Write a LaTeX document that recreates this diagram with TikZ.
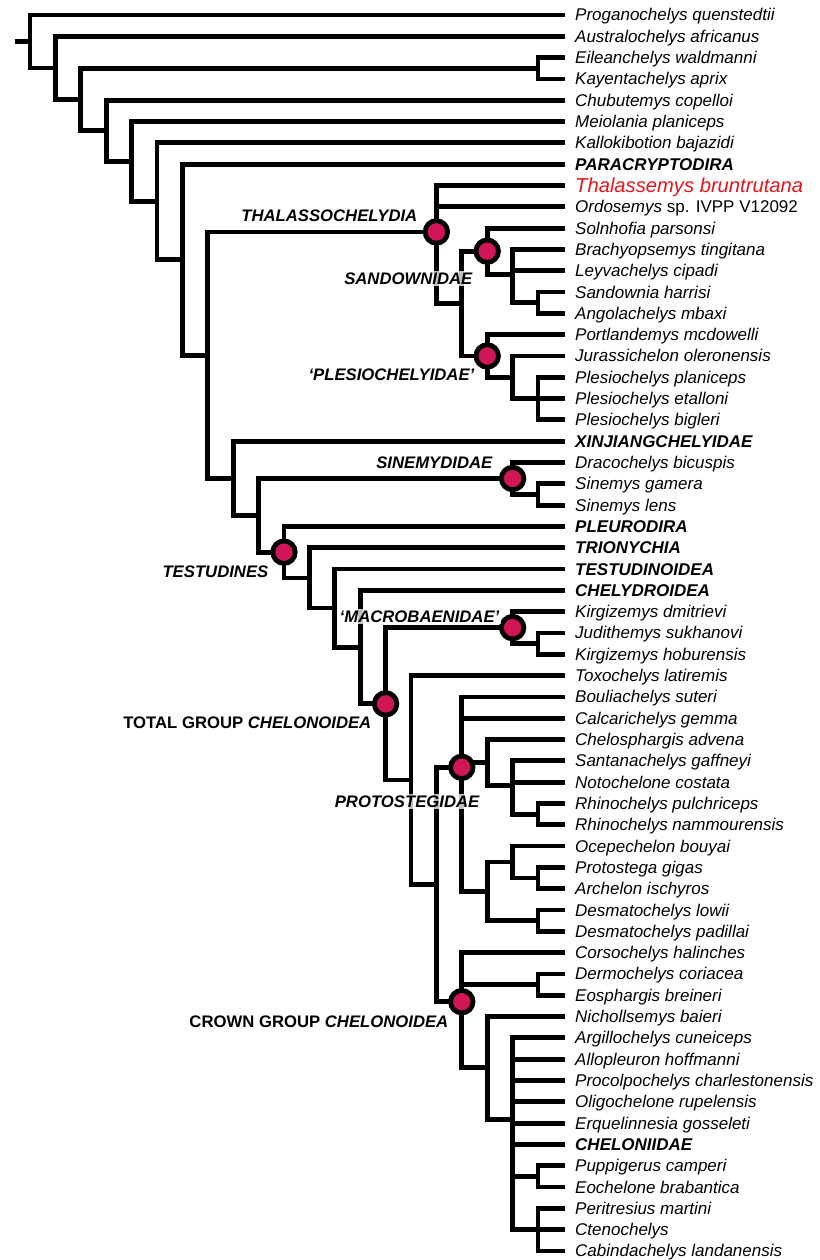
\documentclass[tikz,border=0pt]{standalone}
\usepackage{fontspec}
\setmainfont{Liberation Sans}
\usetikzlibrary{calc}
\definecolor{nodefill}{RGB}{208,22,88}
\definecolor{hlred}{RGB}{232,22,28}
\newcommand\Y[1]{(15+(#1-1)*21.31)}
\newcommand\IN[3]{\coordinate (#1) at ({30+25.4*#2},{\Y{#3}});}
\newcommand\TIP[1]{\coordinate (t#1) at (565,{\Y{#1}});}
\tikzset{
  br/.style={line width=4.8pt, line join=miter, line cap=butt},
  cladedot/.style={circle, draw=black, line width=4.8pt, fill=nodefill, minimum size=22.5pt, inner sep=0pt},
  leaf/.style={anchor=base west, inner sep=0pt, font=\fontsize{17}{20}\selectfont\itshape},
  leafgrp/.style={leaf, font=\fontsize{17}{20}\selectfont\bfseries\itshape},
  leafred/.style={leaf, text=hlred, font=\fontsize{20.2}{24}\selectfont\itshape},
  cladelabel/.style={anchor=base east, inner sep=1.5pt, fill=white, fill opacity=0.75, text opacity=1, font=\fontsize{16.7}{20}\selectfont\bfseries\itshape},
}
\begin{document}
\begin{tikzpicture}[x=1pt,y=-1pt]
\useasboundingbox (0,0) rectangle (819,1260);
% tips
\foreach \i in {1,...,59} {\TIP{\i}}
% internal nodes
\IN{pE}{20}{3.5}
\IN{nS3}{20}{14.5}
\IN{nS2}{19}{13.16667}
\IN{nS}{18}{12.08333}
\IN{nP3}{20}{19}
\IN{nP2}{19}{18}
\IN{nP}{18}{17}
\IN{nSP}{17}{14.54167}
\IN{Thal}{16}{11.18056}
\IN{nSi2}{20}{23.5}
\IN{Sin}{19}{22.75}
\IN{nM2}{20}{30.5}
\IN{Mac}{19}{29.75}
\IN{nR}{20}{38.5}
\IN{nPr1b}{19}{37.16667}
\IN{nPr1}{18}{36.08333}
\IN{nPA}{20}{41.5}
\IN{nPr2a}{19}{40.75}
\IN{nD}{20}{43.5}
\IN{nPr2}{18}{42.125}
\IN{Prot}{17}{36.30208}
\IN{nDE}{20}{46.5}
\IN{nPE}{20}{55.5}
\IN{nPC}{20}{58}
\IN{nC2}{19}{52.8125}
\IN{nC1}{18}{50.40625}
\IN{Crown}{17}{47.30208}
\IN{n15}{16}{41.80208}
\IN{n14}{15}{36.90104}
\IN{TG}{14}{33.32552}
\IN{n13}{13}{30.66276}
\IN{n12}{12}{28.83138}
\IN{n11}{11}{27.41569}
\IN{Test}{10}{26.20785}
\IN{n10}{9}{24.47892}
\IN{n9}{8}{22.73946}
\IN{n8}{7}{16.96001}
\IN{n7}{6}{12.48001}
\IN{n6}{5}{9.74000}
\IN{n5}{4}{7.87000}
\IN{n4}{3}{6.43500}
\IN{n3}{2}{4.96750}
\IN{n2}{1}{3.48375}
\IN{n1}{0}{2.24188}
\coordinate (root) at (15,{\Y{2.24188}});
% branches
\draw[br] (root) -- (n1);
\draw[br] (t1) -| (n1) |- (n2);
\draw[br] (t2) -| (n2) |- (n3);
\draw[br] (pE) -| (n3) |- (n4);
\draw[br] (t3) -| (pE) |- (t4);
\draw[br] (t5) -| (n4) |- (n5);
\draw[br] (t6) -| (n5) |- (n6);
\draw[br] (t7) -| (n6) |- (n7);
\draw[br] (t8) -| (n7) |- (n8);
\draw[br] (Thal) -| (n8) |- (n9);
\draw[br] (t9) -| (Thal) |- (nSP);
\draw[br] (t10) -| (Thal);
\draw[br] (nS) -| (nSP) |- (nP);
\draw[br] (t11) -| (nS) |- (nS2);
\draw[br] (t12) -| (nS2) |- (nS3);
\draw[br] (t13) -| (nS2);
\draw[br] (t14) -| (nS3) |- (t15);
\draw[br] (t16) -| (nP) |- (nP2);
\draw[br] (t17) -| (nP2) |- (nP3);
\draw[br] (t18) -| (nP3) |- (t20);
\draw[br] (t19) -- (nP3);
\draw[br] (t21) -| (n9) |- (n10);
\draw[br] (Sin) -| (n10) |- (Test);
\draw[br] (t22) -| (Sin) |- (nSi2);
\draw[br] (t23) -| (nSi2) |- (t24);
\draw[br] (t25) -| (Test) |- (n11);
\draw[br] (t26) -| (n11) |- (n12);
\draw[br] (t27) -| (n12) |- (n13);
\draw[br] (t28) -| (n13) |- (TG);
\draw[br] (Mac) -| (TG) |- (n14);
\draw[br] (t29) -| (Mac) |- (nM2);
\draw[br] (t30) -| (nM2) |- (t31);
\draw[br] (t32) -| (n14) |- (n15);
\draw[br] (Prot) -| (n15) |- (Crown);
\draw[br] (t33) -| (Prot) |- (nPr2);
\draw[br] (t34) -| (Prot);
\draw[br] (nPr1) -| (Prot);
\draw[br] (t35) -| (nPr1) |- (nPr1b);
\draw[br] (t36) -| (nPr1b) |- (nR);
\draw[br] (t37) -| (nPr1b);
\draw[br] (t38) -| (nR) |- (t39);
\draw[br] (nPr2a) -| (nPr2) |- (nD);
\draw[br] (t40) -| (nPr2a) |- (nPA);
\draw[br] (t41) -| (nPA) |- (t42);
\draw[br] (t43) -| (nD) |- (t44);
\draw[br] (t45) -| (Crown) |- (nC1);
\draw[br] (nDE) -| (Crown);
\draw[br] (t46) -| (nDE) |- (t47);
\draw[br] (t48) -| (nC1) |- (nC2);
\draw[br] (t49) -| (nC2) |- (nPC);
\foreach \k in {50,...,54} {\draw[br] (t\k) -| (nC2);}
\draw[br] (nPE) -| (nC2);
\draw[br] (t55) -| (nPE) |- (t56);
\draw[br] (t57) -| (nPC) |- (t59);
\draw[br] (t58) -- (nPC);
% clade dots
\foreach \c in {Thal,nS,nP,Sin,Test,Mac,TG,Prot,Crown} {\node[cladedot] (d\c) at (\c) {};}
% clade labels
\node[cladelabel] (lbThal) at (419,222) {THALASSOCHELYDIA};
\node[cladelabel] (lbSand) at (474,284) {SANDOWNIDAE};
\node[cladelabel] (lbPles) at (476,380) {‘PLESIOCHELYIDAE’};
\node[cladelabel] (lbSin) at (494,468) {SINEMYDIDAE};
\node[cladelabel] (lbTest) at (270,577) {TESTUDINES};
\node[cladelabel] (lbMac) at (501,622) {‘MACROBAENIDAE’};
\node[cladelabel] (lbTG) at (373,728) {\upshape TOTAL GROUP \itshape CHELONOIDEA};
\node[cladelabel] (lbProt) at (481,807) {PROTOSTEGIDAE};
\node[cladelabel] (lbCrown) at (450,1027) {\upshape CROWN GROUP \itshape CHELONOIDEA};
% leaf labels
\newcommand\LF[3]{\node[#2] (l#1) at (575,{\Y{#1}+6}) {#3};}
\LF{1}{leaf}{Proganochelys quenstedtii}
\LF{2}{leaf}{Australochelys africanus}
\LF{3}{leaf}{Eileanchelys waldmanni}
\LF{4}{leaf}{Kayentachelys aprix}
\LF{5}{leaf}{Chubutemys copelloi}
\LF{6}{leaf}{Meiolania planiceps}
\LF{7}{leaf}{Kallokibotion bajazidi}
\LF{8}{leafgrp}{PARACRYPTODIRA}
\node[leafred] (l9) at (575,{\Y{9}+7}) {Thalassemys bruntrutana};
\LF{10}{leaf}{Ordosemys {\upshape sp. IVPP V12092}}
\LF{11}{leaf}{Solnhofia parsonsi}
\LF{12}{leaf}{Brachyopsemys tingitana}
\LF{13}{leaf}{Leyvachelys cipadi}
\LF{14}{leaf}{Sandownia harrisi}
\LF{15}{leaf}{Angolachelys mbaxi}
\LF{16}{leaf}{Portlandemys mcdowelli}
\LF{17}{leaf}{Jurassichelon oleronensis}
\LF{18}{leaf}{Plesiochelys planiceps}
\LF{19}{leaf}{Plesiochelys etalloni}
\LF{20}{leaf}{Plesiochelys bigleri}
\LF{21}{leafgrp}{XINJIANGCHELYIDAE}
\LF{22}{leaf}{Dracochelys bicuspis}
\LF{23}{leaf}{Sinemys gamera}
\LF{24}{leaf}{Sinemys lens}
\LF{25}{leafgrp}{PLEURODIRA}
\LF{26}{leafgrp}{TRIONYCHIA}
\LF{27}{leafgrp}{TESTUDINOIDEA}
\LF{28}{leafgrp}{CHELYDROIDEA}
\LF{29}{leaf}{Kirgizemys dmitrievi}
\LF{30}{leaf}{Judithemys sukhanovi}
\LF{31}{leaf}{Kirgizemys hoburensis}
\LF{32}{leaf}{Toxochelys latiremis}
\LF{33}{leaf}{Bouliachelys suteri}
\LF{34}{leaf}{Calcarichelys gemma}
\LF{35}{leaf}{Chelosphargis advena}
\LF{36}{leaf}{Santanachelys gaffneyi}
\LF{37}{leaf}{Notochelone costata}
\LF{38}{leaf}{Rhinochelys pulchriceps}
\LF{39}{leaf}{Rhinochelys nammourensis}
\LF{40}{leaf}{Ocepechelon bouyai}
\LF{41}{leaf}{Protostega gigas}
\LF{42}{leaf}{Archelon ischyros}
\LF{43}{leaf}{Desmatochelys lowii}
\LF{44}{leaf}{Desmatochelys padillai}
\LF{45}{leaf}{Corsochelys halinches}
\LF{46}{leaf}{Dermochelys coriacea}
\LF{47}{leaf}{Eosphargis breineri}
\LF{48}{leaf}{Nichollsemys baieri}
\LF{49}{leaf}{Argillochelys cuneiceps}
\LF{50}{leaf}{Allopleuron hoffmanni}
\LF{51}{leaf}{Procolpochelys charlestonensis}
\LF{52}{leaf}{Oligochelone rupelensis}
\LF{53}{leaf}{Erquelinnesia gosseleti}
\LF{54}{leafgrp}{CHELONIIDAE}
\LF{55}{leaf}{Puppigerus camperi}
\LF{56}{leaf}{Eochelone brabantica}
\LF{57}{leaf}{Peritresius martini}
\LF{58}{leaf}{Ctenochelys}
\LF{59}{leaf}{Cabindachelys landanensis}
\end{tikzpicture}
\end{document}
